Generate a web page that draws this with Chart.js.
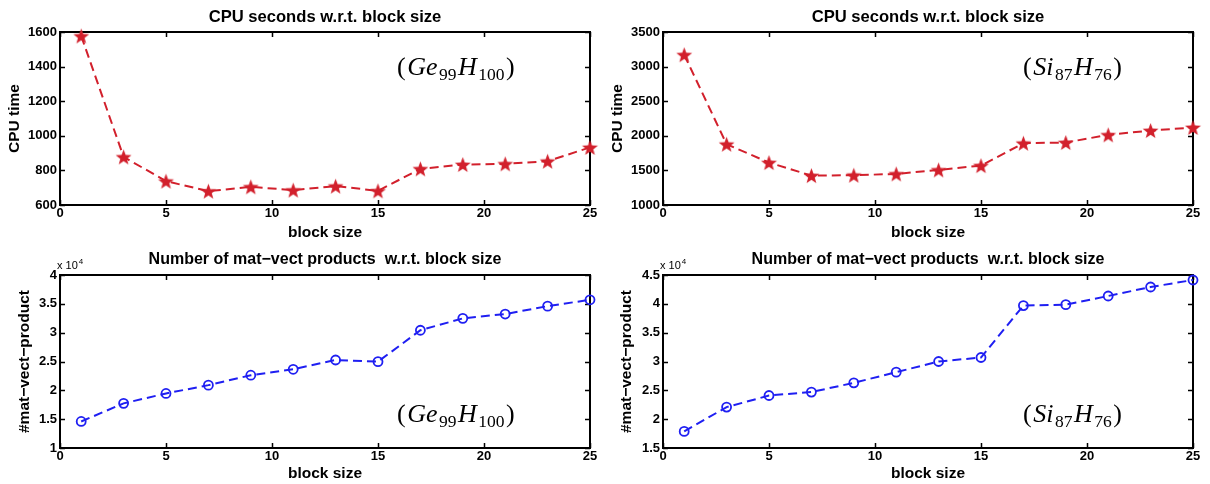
<!DOCTYPE html>
<html><head><meta charset="utf-8">
<script src="https://cdn.jsdelivr.net/npm/chart.js@4.4.0/dist/chart.umd.min.js"></script>
<style>
html,body{margin:0;padding:0;background:#fff;width:1210px;height:484px;overflow:hidden}
canvas{position:absolute}
</style></head><body>
<canvas id="c1" width="605" height="242" style="left:0;top:0"></canvas>
<canvas id="c2" width="605" height="242" style="left:605px;top:0"></canvas>
<canvas id="c3" width="605" height="242" style="left:0;top:242px"></canvas>
<canvas id="c4" width="605" height="242" style="left:605px;top:242px"></canvas>
<script>
// ---- data ----
const blockSizes = [1, 3, 5, 7, 9, 11, 13, 15, 17, 19, 21, 23, 25];
const cpuTimeGe = [1577, 878, 738, 680, 705, 686, 709, 682, 809, 834, 838, 853, 933];
const cpuTimeSi = [3172, 1878, 1613, 1425, 1430, 1449, 1507, 1569, 1893, 1903, 2014, 2076, 2120];
const matVecGe = [14600, 17740, 19460, 20900, 22620, 23650, 25260, 24970, 30420, 32480, 33230, 34600, 35700];
const matVecSi = [17880, 22090, 24100, 24700, 26300, 28150, 30000, 30690, 39700, 39860, 41360, 42920, 44130];

const xTicks = [0, 5, 10, 15, 20, 25];
const cpuTicksGe = [600, 800, 1000, 1200, 1400, 1600];
const cpuTicksSi = [1000, 1500, 2000, 2500, 3000, 3500];
const matVecTicksGe = [10000, 15000, 20000, 25000, 30000, 35000, 40000];
const matVecTicksSi = [15000, 20000, 25000, 30000, 35000, 40000, 45000];

const titleCpu = 'CPU seconds w.r.t. block size';
const titleMatVec = 'Number of mat\u2212vect products  w.r.t. block size';
const xLabel = 'block size';
const yLabelCpu = 'CPU time';
const yLabelMatVec = '#mat\u2212vect\u2212product';
const exponentBase = 'x 10';
const exponentPower = '4';
// molecule labels: [text, kind]  kind: n = upright, i = italic, s = subscript
const moleculeGe = [['(', 'n'], ['Ge', 'i'], ['99', 's'], ['H', 'i'], ['100', 's'], [')', 'n']];
const moleculeSi = [['(', 'n'], ['Si', 'i'], ['87', 's'], ['H', 'i'], ['76', 's'], [')', 'n']];

// ---- styling ----
const SANS = '"Liberation Sans", Arial, Helvetica, sans-serif';
const SERIF = '"Liberation Serif", "Times New Roman", serif';
const RED = '#d2202c';
const BLUE = '#1f1ff2';
Chart.defaults.font.family = SANS;
Chart.defaults.color = '#000';

function starImage(color, r) {
  const s = Math.ceil(r * 2) + 2;
  const c = document.createElement('canvas');
  c.width = s; c.height = s;
  const g = c.getContext('2d');
  g.translate(s / 2, s / 2 + r * 0.1);
  g.beginPath();
  for (let i = 0; i < 10; i++) {
    const rr = (i % 2) ? r * 0.42 : r;
    const a = -Math.PI / 2 + i * Math.PI / 5;
    g.lineTo(rr * Math.cos(a), rr * Math.sin(a));
  }
  g.closePath();
  g.fillStyle = color;
  g.fill();
  return c;
}

const framePlugin = {
  id: 'frame',
  beforeDatasetsDraw(chart) {
    const {ctx, chartArea: a, scales: {x, y}} = chart;
    ctx.save();
    ctx.strokeStyle = '#000';
    ctx.lineWidth = 1.5;
    ctx.beginPath();
    x.ticks.forEach(t => {
      const px = Math.round(x.getPixelForValue(t.value)) + 0.5;
      ctx.moveTo(px, a.bottom); ctx.lineTo(px, a.bottom - 5);
      ctx.moveTo(px, a.top); ctx.lineTo(px, a.top + 5);
    });
    y.ticks.forEach(t => {
      const py = Math.round(y.getPixelForValue(t.value)) + 0.5;
      ctx.moveTo(a.left, py); ctx.lineTo(a.left + 5, py);
      ctx.moveTo(a.right, py); ctx.lineTo(a.right - 5, py);
    });
    ctx.stroke();
    ctx.lineWidth = 2;
    ctx.strokeRect(a.left, a.top, a.right - a.left, a.bottom - a.top);
    ctx.restore();
  }
};

const textPlugin = {
  id: 'texts',
  afterDraw(chart, args, o) {
    const {ctx, chartArea: a} = chart;
    ctx.save();
    ctx.fillStyle = '#000';
    // title centered over axes
    ctx.font = 'bold ' + o.titleSize + 'px ' + SANS;
    ctx.textAlign = 'center';
    ctx.textBaseline = 'middle';
    ctx.fillText(o.title, (a.left + a.right) / 2, o.titleY);
    // exponent
    if (o.exponent) {
      ctx.textAlign = 'left';
      ctx.textBaseline = 'alphabetic';
      ctx.font = '11px ' + SANS;
      ctx.fillText(exponentBase, a.left - 3, a.top - 6);
      const w = ctx.measureText(exponentBase).width;
      ctx.font = '8px ' + SANS;
      ctx.fillText(exponentPower, a.left - 3 + w + 1, a.top - 11);
    }
    // molecule annotation
    let px = o.molX;
    const base = o.molY;
    ctx.textAlign = 'left';
    ctx.textBaseline = 'alphabetic';
    o.molecule.forEach(([t, k]) => {
      let dy = 0;
      if (k === 'n') ctx.font = '26px ' + SERIF;
      else if (k === 'i') ctx.font = 'italic 26px ' + SERIF;
      else { ctx.font = '17.5px ' + SERIF; dy = 5; }
      ctx.fillText(t, px, base + dy);
      px += ctx.measureText(t).width + 1.5;
    });
    ctx.restore();
  }
};

function makeChart(id, cfg) {
  const data = blockSizes.map((b, i) => ({x: b, y: cfg.values[i]}));
  const isStar = cfg.marker === 'star';
  return new Chart(document.getElementById(id), {
    type: 'line',
    data: {
      datasets: [{
        data,
        borderColor: cfg.color,
        borderWidth: 2,
        borderDash: [9, 5],
        tension: 0,
        clip: false,
        pointStyle: isStar ? starImage(cfg.color, 8.3) : 'circle',
        pointRadius: isStar ? 8 : 4.5,
        pointBorderWidth: 1.8,
        pointBorderColor: cfg.color,
        pointBackgroundColor: isStar ? cfg.color : 'rgba(0,0,0,0)'
      }]
    },
    options: {
      responsive: false,
      animation: false,
      events: [],
      layout: {padding: {top: cfg.top, right: cfg.right, left: 0, bottom: 0}},
      plugins: {
        legend: {display: false},
        tooltip: {enabled: false},
        title: {display: false},
        texts: {
          title: cfg.title, titleY: cfg.titleY, titleSize: cfg.titleSize, exponent: cfg.exponent,
          molecule: cfg.molecule, molX: cfg.molX, molY: cfg.molY
        }
      },
      scales: {
        x: {
          type: 'linear', min: 0, max: 25,
          afterBuildTicks: s => { s.ticks = xTicks.map(v => ({value: v})); },
          afterFit: s => { s.height = cfg.bottom; },
          ticks: {font: {size: 13, weight: 'bold'}, color: '#000', padding: 1, autoSkip: false, maxRotation: 0},
          grid: {drawOnChartArea: false, drawTicks: false},
          border: {display: false},
          title: {display: true, text: xLabel, color: '#000', font: {size: 15.5, weight: 'bold'}, padding: {top: 0, bottom: cfg.xTitlePad}}
        },
        y: {
          type: 'linear', min: cfg.yTicks[0], max: cfg.yTicks[cfg.yTicks.length - 1],
          afterBuildTicks: s => { s.ticks = cfg.yTicks.map(v => ({value: v})); },
          afterFit: s => { s.width = cfg.left; },
          ticks: {
            font: {size: 13, weight: 'bold'}, color: '#000', padding: 3, autoSkip: false,
            callback: v => cfg.exponent ? String(v / 10000) : String(v)
          },
          grid: {drawOnChartArea: false, drawTicks: false},
          border: {display: false},
          title: {display: true, text: cfg.yLabel, color: '#000', font: {size: 15.5, weight: 'bold'}, padding: {top: cfg.yTitlePad, bottom: 0}}
        }
      }
    },
    plugins: [framePlugin, textPlugin]
  });
}

makeChart('c1', {values: cpuTimeGe, yTicks: cpuTicksGe, color: RED, marker: 'star',
  title: titleCpu, titleSize: 16.6, yLabel: yLabelCpu, exponent: false, molecule: moleculeGe,
  top: 32, right: 15, left: 60, bottom: 37, titleY: 17, xTitlePad: 0.4, yTitlePad: 5.7, molX: 397, molY: 75});
makeChart('c2', {values: cpuTimeSi, yTicks: cpuTicksSi, color: RED, marker: 'star',
  title: titleCpu, titleSize: 16.6, yLabel: yLabelCpu, exponent: false, molecule: moleculeSi,
  top: 32, right: 17, left: 58, bottom: 37, titleY: 17, xTitlePad: 0.4, yTitlePad: 3.7, molX: 418, molY: 75});
makeChart('c3', {values: matVecGe, yTicks: matVecTicksGe, color: BLUE, marker: 'circle',
  title: titleMatVec, titleSize: 16, yLabel: yLabelMatVec, exponent: true, molecule: moleculeGe,
  top: 33, right: 15, left: 60, bottom: 36, titleY: 18, xTitlePad: 1.4, yTitlePad: 15.7, molX: 397, molY: 180});
makeChart('c4', {values: matVecSi, yTicks: matVecTicksSi, color: BLUE, marker: 'circle',
  title: titleMatVec, titleSize: 16, yLabel: yLabelMatVec, exponent: true, molecule: moleculeSi,
  top: 33, right: 17, left: 58, bottom: 36, titleY: 18, xTitlePad: 1.4, yTitlePad: 12.4, molX: 418, molY: 180});
</script>
</body></html>
